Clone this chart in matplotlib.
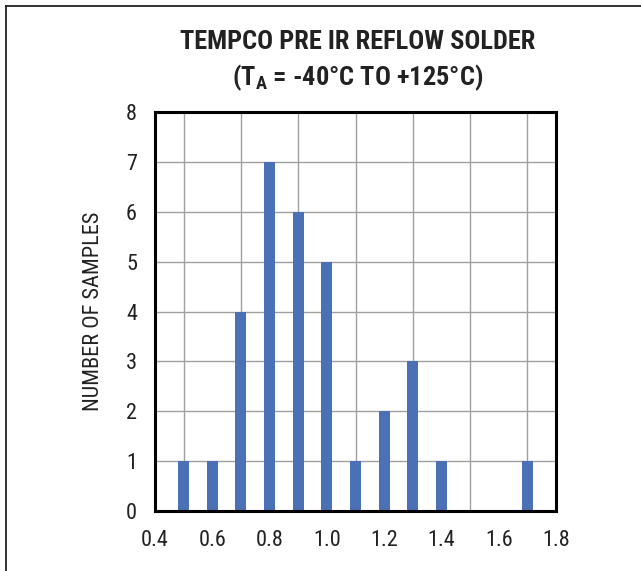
import matplotlib
matplotlib.use("Agg")
import matplotlib.pyplot as plt
from matplotlib.lines import Line2D

# Data
bin_centers = [0.5, 0.6, 0.7, 0.8, 0.9, 1.0, 1.1, 1.2, 1.3, 1.4, 1.7]
counts = [1, 1, 4, 7, 6, 5, 1, 2, 3, 1, 1]
x_ticks = [0.4, 0.6, 0.8, 1.0, 1.2, 1.4, 1.6, 1.8]
x_tick_labels = ["0.4", "0.6", "0.8", "1.0", "1.2", "1.4", "1.6", "1.8"]
y_ticks = [0, 1, 2, 3, 4, 5, 6, 7, 8]
x_grid = [0.4, 0.5, 0.6, 0.7, 0.8, 0.9, 1.0, 1.1, 1.2, 1.3, 1.4, 1.5, 1.6, 1.7, 1.8]
title_line1 = "TEMPCO PRE IR REFLOW SOLDER"
title_line2 = r"(T$_\mathbf{A}$ = -40°C TO +125°C)"
y_label = "NUMBER OF SAMPLES"

FONT = ["Roboto Condensed", "Arial Narrow", "Roboto", "DejaVu Sans"]
plt.rcParams["font.family"] = FONT
plt.rcParams["mathtext.fontset"] = "custom"
plt.rcParams["mathtext.rm"] = "Roboto Condensed"
plt.rcParams["mathtext.bf"] = "Roboto Condensed:bold"

fig = plt.figure(figsize=(6.41, 5.71), dpi=100)
ax = fig.add_axes([155 / 641, 60 / 571, 401 / 641, 399 / 571])

ax.bar(bin_centers, counts, width=0.038, color="#4A70B5", zorder=3)

ax.set_xlim(0.4, 1.8)
ax.set_ylim(0, 8)
ax.set_xticks(x_ticks)
ax.set_xticklabels(x_tick_labels)
ax.set_yticks(y_ticks)
ax.set_xticks(x_grid, minor=True)
ax.grid(True, which="minor", axis="x", color="#A0A0A0", linewidth=1.0, zorder=1)
ax.grid(True, which="major", axis="y", color="#A0A0A0", linewidth=1.0, zorder=1)
ax.tick_params(axis="both", which="both", length=0, labelsize=16, colors="#222222")
ax.tick_params(axis="y", pad=13)
ax.tick_params(axis="x", pad=14)
for s in ax.spines.values():
    s.set_linewidth(2.2)
    s.set_color("black")
    s.set_zorder(5)

ax.set_ylabel(y_label, fontsize=16, color="#222222", labelpad=16)

fig.text(358 / 641, 1 - 42 / 571, title_line1, ha="center", va="center",
         fontsize=19, fontweight="bold", color="#222222")
fig.text(358 / 641, 1 - 78 / 571, title_line2, ha="center", va="center",
         fontsize=19, fontweight="bold", color="#222222")

# partial frame (left and top edges)
fig.add_artist(Line2D([5.5 / 641, 5.5 / 641], [0, 1 - 5.5 / 571], transform=fig.transFigure,
                      color="#222222", linewidth=1.3))
fig.add_artist(Line2D([5.5 / 641, 1], [1 - 5.5 / 571, 1 - 5.5 / 571], transform=fig.transFigure,
                      color="#222222", linewidth=1.3))

fig.savefig("out.png", dpi=100)
